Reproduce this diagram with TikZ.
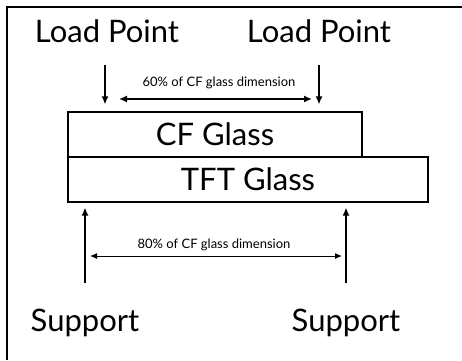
\documentclass[tikz,border=0pt]{standalone}
\usepackage{fontspec}
\setmainfont{Lato}
\usetikzlibrary{arrows.meta}

\begin{document}
\begin{tikzpicture}[x=1pt,y=-1pt]
		\useasboundingbox (0,0) rectangle (462,360);
		\draw[line width=1.5pt] (462,7) -- (7,7) -- (7,360);

		\begin{scope}[every node/.style={draw,line width=1.3pt,minimum height=45pt,inner sep=0pt,
		              font=\fontsize{31}{34}\selectfont}]
		    \node[minimum width=294pt] (cf) at (215,134.5) {CF Glass};
		    \node[minimum width=360pt] (tft) at (248,179.5) {TFT Glass};
		\end{scope}

		\begin{scope}[every node/.style={inner sep=0pt,anchor=base,font=\fontsize{31}{34}\selectfont}]
		    \node (lp1) at (107,42) {Load Point};
		    \node (lp2) at (319,42) {Load Point};
		    \node (sp1) at (85,331) {Support};
		    \node (sp2) at (346,331) {Support};
		\end{scope}

		\begin{scope}[every node/.style={inner sep=0pt,anchor=base,font=\fontsize{13}{15}\selectfont}]
		    \node (d60) at (219,86) {60\% of CF glass dimension};
		    \node (d80) at (214,248) {80\% of CF glass dimension};
		\end{scope}

		\coordinate (l1) at (105,65);
		\coordinate (l2) at (319,65);
		\coordinate (s1) at (85,283);
		\coordinate (s2) at (346,283);
		\coordinate (a1) at (119,99);
		\coordinate (a2) at (312,99);
		\coordinate (b1) at (90,256);
		\coordinate (b2) at (342,256);

		\begin{scope}[>={Latex[length=8pt,width=7pt]}, line width=1.3pt]
		    \draw[->,shorten >=7pt] (l1) -- (l1 |- cf.north);
		    \draw[->,shorten >=7pt] (l2) -- (l2 |- cf.north);
		    \draw[->,shorten >=5pt] (s1) -- (s1 |- tft.south);
		    \draw[->,shorten >=5pt] (s2) -- (s2 |- tft.south);
		    \draw[<->,line width=1.5pt] (a1) -- (a2);
		    \draw[<->,line width=1pt,>={Latex[length=7pt,width=6pt]}] (b1) -- (b2);
		\end{scope}
\end{tikzpicture}
\end{document}
